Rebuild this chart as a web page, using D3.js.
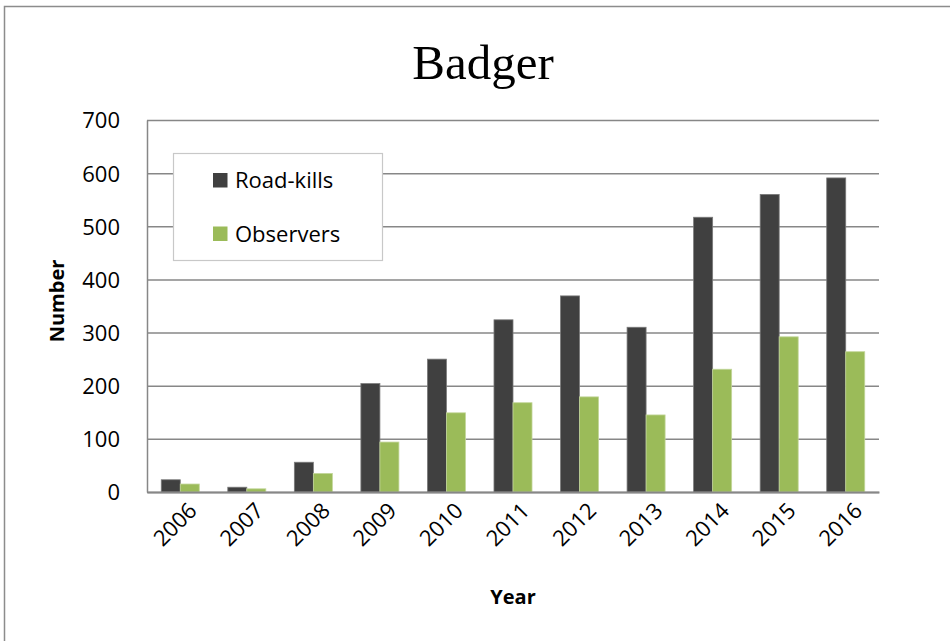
<!DOCTYPE html>
<html>
<head>
<meta charset="utf-8">
<script src="https://cdn.jsdelivr.net/npm/d3@7"></script>
<style>
  html, body { margin: 0; padding: 0; background: #fff; }
  svg { display: block; }
</style>
</head>
<body>
<svg id="chart" width="950" height="641"></svg>
<script>
// Badger road-kills and observers per year
const years = ["2006", "2007", "2008", "2009", "2010", "2011", "2012", "2013", "2014", "2015", "2016"];
const roadKills = [23, 9, 56, 204, 250, 324, 369, 310, 517, 560, 591];
const observers = [15, 6, 35, 94, 149, 168, 179, 145, 231, 292, 264];
const seriesNames = ["Road-kills", "Observers"];
const seriesColors = ["#404040", "#9BBB59"];
const seriesStrokes = ["#7a7a7a", "#c3d69b"];
const yTicks = [0, 100, 200, 300, 400, 500, 600, 700];

const svg = d3.select("#chart");
const W = 950, H = 641;
const margin = { left: 147, right: W - 879, top: 120, bottom: H - 492 };

// outer chart frame
svg.append("rect")
  .attr("x", 4.5).attr("y", 6.5)
  .attr("width", W + 10).attr("height", H + 10)
  .attr("fill", "#fff").attr("stroke", "#8c8c8c").attr("stroke-width", 1.5);

const x0 = d3.scaleBand().domain(years)
  .range([margin.left, W - margin.right])
  .paddingInner(1.5 / 3.5).paddingOuter(0.75 / 3.5);
const x1 = d3.scaleBand().domain(seriesNames).range([0, x0.bandwidth()]);
const y = d3.scaleLinear().domain([0, 700]).range([H - margin.bottom, margin.top]);

// horizontal gridlines
const gridAxis = d3.axisLeft(y).tickValues(yTicks)
  .tickSize(-(W - margin.left - margin.right)).tickFormat("");
const grid = svg.append("g").attr("transform", `translate(${margin.left},0)`).call(gridAxis);
grid.select(".domain").remove();
grid.selectAll(".tick line").attr("stroke", "#878787").attr("stroke-width", 1.5);

// y axis labels
const yAxis = d3.axisLeft(y).tickValues(yTicks).tickSize(0).tickPadding(27);
const ya = svg.append("g").attr("transform", `translate(${margin.left},0)`).call(yAxis);
ya.select(".domain").attr("stroke", "#878787").attr("stroke-width", 1.5);
ya.selectAll(".tick text")
  .attr("font-family", "'Open Sans', sans-serif").attr("font-size", 22)
  .attr("fill", "#000").attr("dy", "0.36em");

// bars
const data = years.map((yr, i) => ({ year: yr, values: [roadKills[i], observers[i]] }));
const groups = svg.append("g").selectAll("g").data(data).join("g")
  .attr("transform", d => `translate(${x0(d.year)},0)`);
groups.selectAll("rect")
  .data(d => d.values.map((v, k) => ({ name: seriesNames[k], value: v, k })))
  .join("rect")
  .attr("x", d => x1(d.name))
  .attr("y", d => y(d.value))
  .attr("width", x1.bandwidth())
  .attr("height", d => y(0) - y(d.value))
  .attr("fill", d => seriesColors[d.k])
  .attr("stroke", d => seriesStrokes[d.k])
  .attr("stroke-width", 0.8);

// x axis
const xAxis = d3.axisBottom(x0).tickSize(0).tickPadding(0);
const xa = svg.append("g").attr("transform", `translate(0,${y(0)})`).call(xAxis);
xa.select(".domain").attr("stroke", "#878787").attr("stroke-width", 2);
xa.selectAll(".tick text")
  .attr("font-family", "'Open Sans', sans-serif").attr("font-size", 22)
  .attr("fill", "#000")
  .attr("text-anchor", "end")
  .attr("dy", 0)
  .attr("transform", "translate(18,20) rotate(-45)");

// title
svg.append("text")
  .attr("x", 483).attr("y", 79)
  .attr("text-anchor", "middle")
  .attr("font-family", "'Liberation Serif', serif").attr("font-size", 49)
  .attr("fill", "#000").text("Badger");

// axis titles
svg.append("text")
  .attr("x", (margin.left + W - margin.right) / 2).attr("y", 604)
  .attr("text-anchor", "middle")
  .attr("font-family", "'Open Sans', sans-serif").attr("font-weight", "bold").attr("font-size", 20)
  .attr("fill", "#000").text("Year");

svg.append("text")
  .attr("transform", "translate(64,301) rotate(-90)")
  .attr("text-anchor", "middle")
  .attr("font-family", "'Open Sans', sans-serif").attr("font-weight", "bold").attr("font-size", 20)
  .attr("fill", "#000").text("Number");

// legend
const legend = svg.append("g");
legend.append("rect")
  .attr("x", 173.5).attr("y", 153.5).attr("width", 209).attr("height", 107)
  .attr("fill", "#fff").attr("stroke", "#c8c8c8").attr("stroke-width", 1.2);
const items = legend.selectAll("g.item").data(seriesNames).join("g")
  .attr("class", "item")
  .attr("transform", (d, i) => `translate(213,${173 + i * 53.5})`);
items.append("rect")
  .attr("width", 14.5).attr("height", 14.5)
  .attr("fill", (d, i) => seriesColors[i]);
items.append("text")
  .attr("x", 22).attr("y", 15.3)
  .attr("font-family", "'Open Sans', sans-serif").attr("font-size", 22)
  .attr("fill", "#000").text(d => d);
</script>
</body>
</html>
